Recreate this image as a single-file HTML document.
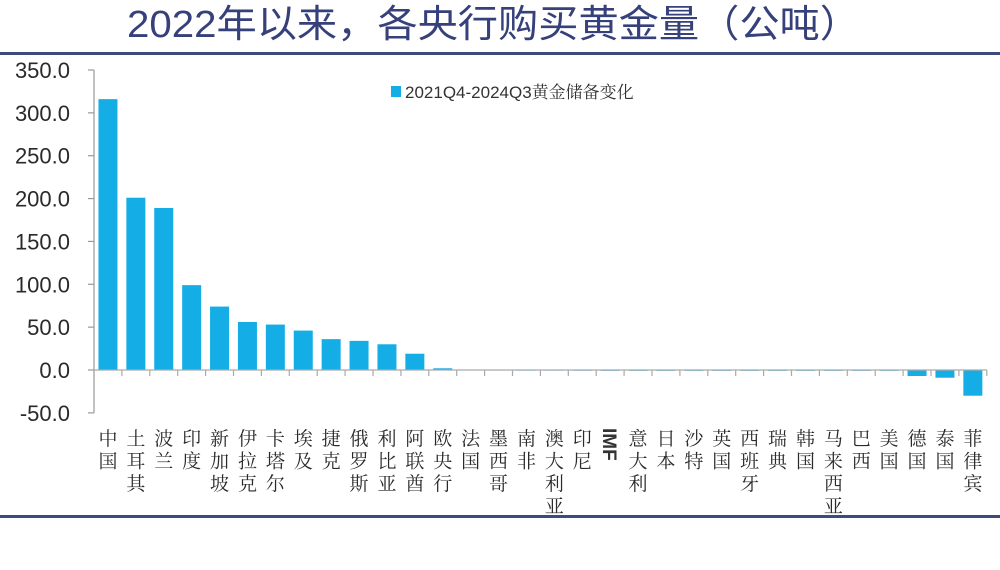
<!DOCTYPE html>
<html><head><meta charset="utf-8"><style>
html,body{margin:0;padding:0;background:#fff;width:1000px;height:570px;overflow:hidden}
svg{display:block}
</style></head><body>
<svg id="chart" width="1000" height="570" viewBox="0 0 1000 570" xmlns="http://www.w3.org/2000/svg">
<text x="127" y="37" font-family="Liberation Sans, Noto Sans CJK SC, sans-serif" font-size="38" fill="#36407a" textLength="733" lengthAdjust="spacingAndGlyphs">2022年以来，各央行购买黄金量（公吨）</text>
<rect x="0" y="52" width="1000" height="3" fill="#3d4a7e"/>
<rect x="0" y="515" width="1000" height="3" fill="#3d4a7e"/>
<g id="plot"></g>
<g>
<rect x="391" y="86" width="10" height="11" fill="#14ade6"/>
<text x="405" y="98" font-family="Liberation Sans, Noto Serif CJK SC, sans-serif" font-size="17" fill="#333">2021Q4-2024Q3黄金储备变化</text>
</g>
</svg>
<script>
const categories=["中国","土耳其","波兰","印度","新加坡","伊拉克","卡塔尔","埃及","捷克","俄罗斯","利比亚","阿联酋","欧央行","法国","墨西哥","南非","澳大利亚","印尼","IMF","意大利","日本","沙特","英国","西班牙","瑞典","韩国","马来西亚","巴西","美国","德国","泰国","菲律宾"];
const values=[316,201,189,99,74,56,53,46,36,34,30,19,2,0.5,0.3,0.2,0.2,0.1,0,0,0,0,0,0,0,0,0,0,-0.5,-7,-9,-30];
const yTicks=[350,300,250,200,150,100,50,0,-50];
const yTickLabels=["350.0","300.0","250.0","200.0","150.0","100.0","50.0","0.0","-50.0"];
const NS="http://www.w3.org/2000/svg";
const g=document.getElementById('plot');
const x0=94, step=27.9, y0=370, scale=300/350;
const y=v=>y0-v*scale;
const xc=i=>x0+step*(i+0.5);
function mk(t,a){const e=document.createElementNS(NS,t);for(const k in a)e.setAttribute(k,a[k]);g.appendChild(e);return e;}
let ax=mk('line',{x1:x0,y1:y(350),x2:x0,y2:y(-50),stroke:'#999','stroke-width':1.2});


yTicks.forEach((v,i)=>{
  let t=mk('line',{x1:x0-6,y1:y(v),x2:x0,y2:y(v),stroke:'#999','stroke-width':1.2});
  
  
  let l=mk('text',{x:x0-24,y:y(v)+8,'text-anchor':'end','font-family':'Liberation Sans, sans-serif','font-size':22,fill:'#2a2a2a'});
  l.textContent=yTickLabels[i];
  
  
});
values.forEach((v,i)=>{
  const top=Math.min(y(v),y(0)), h=Math.max(Math.abs(y(v)-y(0)),0.8);
  let b=mk('rect',{x:xc(i)-9.5,y:top,width:19,height:h,fill:'#14ade6'});
  
  
});
let xa=mk('line',{x1:x0,y1:y(0),x2:x0+step*categories.length,y2:y(0),stroke:'#aaa','stroke-width':1.2});


categories.forEach((c,i)=>{
  let t=mk('line',{x1:x0+step*(i+1),y1:y(0),x2:x0+step*(i+1),y2:y(0)+6,stroke:'#aaa','stroke-width':1.2});
  
  
  if(c==="IMF"){
    let l=mk('text',{transform:`translate(${xc(i)-7},428) rotate(90)`,'font-family':'Liberation Sans, sans-serif','font-size':19,'font-weight':'bold',fill:'#333'});
    l.textContent=c;
    
    
  } else {
    [...c].forEach((ch,j)=>{
      let l=mk('text',{x:xc(i),y:445+j*22.5,'text-anchor':'middle','font-family':'Noto Serif CJK SC, Noto Sans CJK SC, serif','font-size':19,fill:'#2a2a2a'});
      l.textContent=ch;
      
      
    });
  }
});
</script>
</body></html>
